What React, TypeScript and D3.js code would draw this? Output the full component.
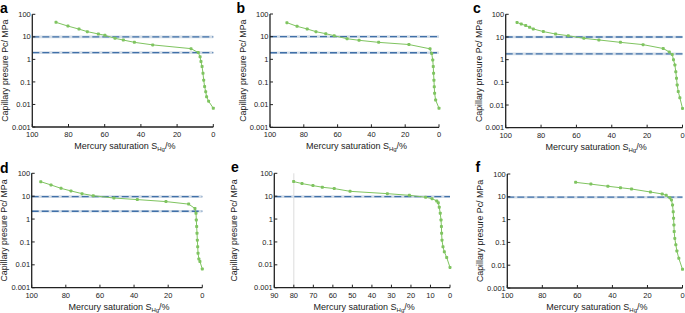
import React from "react";
import * as d3 from "d3";

// ---------- data ----------
const yTicks = [100, 10, 1, 0.1, 0.01, 0.001];
const yTickLabels = ["100", "10", "1", "0.1", "0.01", "0.001"];
const xTicks100 = [100, 80, 60, 40, 20, 0];
const xTicks90 = [90, 80, 70, 60, 50, 40, 30, 20, 10, 0];

const satA = [86.9, 80.3, 74.2, 69.6, 63.5, 59.9, 54.3, 49.7, 43.6, 33.5, 12.3, 8.3, 7.3, 6.8, 6.2, 5.7, 5.3, 4.8, 4.2, 3.7, 2.6, 0];
const pcA = [44, 30, 22, 17, 13.4, 11.7, 8.6, 7.2, 5.7, 4.4, 3.0, 2.0, 1.3, 0.8, 0.48, 0.24, 0.12, 0.062, 0.037, 0.022, 0.014, 0.0068];
const linesA = [10, 2.0];

const satB = [90, 84, 78, 72.8, 67, 62, 54.4, 47.3, 35.7, 17.8, 5.3, 4.3, 3.7, 3.4, 3.2, 3.0, 2.8, 2.6, 2.0, 0];
const pcB = [41.5, 28.6, 21.8, 16.6, 13.5, 11, 8.1, 6.9, 5.6, 4.5, 2.9, 1.8, 0.93, 0.48, 0.24, 0.12, 0.062, 0.032, 0.016, 0.0069];
const linesB = [10, 1.95];

const satC = [93.6, 91.2, 88.7, 86.5, 84.4, 78.7, 71.8, 64.6, 55.8, 47.3, 35.1, 22.3, 10.9, 7.5, 5.8, 5.1, 4.3, 3.8, 3.4, 3.0, 2.4, 1.5, 0];
const pcC = [44, 37, 32, 27, 22.6, 17.3, 13.5, 11.4, 8.7, 7.4, 5.8, 4.6, 3.1, 2.2, 1.7, 1.0, 0.58, 0.29, 0.15, 0.076, 0.039, 0.021, 0.0071];
const linesC = [10, 1.8];

const satD = [94.7, 88.7, 82.8, 77, 70.5, 63.9, 51.8, 38.1, 21.3, 8, 4.3, 3.7, 3.5, 3.3, 3.1, 2.9, 2.7, 2.5, 2.0, 1.4, 0];
const pcD = [43, 31, 22, 17, 12.9, 10.5, 8.3, 7.1, 5.8, 4.5, 2.9, 1.8, 0.91, 0.47, 0.24, 0.12, 0.062, 0.032, 0.018, 0.014, 0.0066];
const linesD = [9.6, 2.2];

const satE = [80.1, 75.8, 70.2, 65.4, 59.3, 51.2, 32.1, 20.8, 12.5, 9.2, 6.8, 6.0, 5.5, 5.0, 4.6, 4.4, 4.3, 4.1, 3.6, 2.9, 1.7, 0];
const pcE = [43.5, 35.5, 29, 24.6, 21.5, 16.3, 12.9, 10.9, 9.0, 7.8, 6.2, 5.2, 3.3, 1.8, 0.91, 0.47, 0.24, 0.12, 0.062, 0.037, 0.021, 0.0077];
const linesE = [9.6];
const refLineE = 80;

const satF = [61, 52.3, 42.6, 35.4, 29.1, 18.3, 11.6, 9.3, 7.2, 6.3, 5.7, 5.3, 5.1, 4.9, 4.75, 4.4, 3.8, 3.2, 2.1, 0];
const pcF = [43, 36, 29, 25, 22, 16.2, 13.3, 11.6, 9.1, 7.3, 4.4, 2.2, 1.15, 0.58, 0.3, 0.15, 0.078, 0.042, 0.02, 0.0066];
const linesF = [9.6];

// ---------- layout ----------
type Panel = {
  letter: string;
  sat: number[];
  pc: number[];
  lines: number[];
  xMax: number;
  xTicks: number[];
  ref?: number;
  left: number; right: number; top: number; bottom: number;
  letterX: number; letterY: number;
  titleX: number;
};

const panels: Panel[] = [
  { letter: "a", sat: satA, pc: pcA, lines: linesA, xMax: 100, xTicks: xTicks100, left: 32.3, right: 213.3, top: 14.3, bottom: 127, letterX: 0, letterY: 13, titleX: 4.5 },
  { letter: "b", sat: satB, pc: pcB, lines: linesB, xMax: 100, xTicks: xTicks100, left: 270, right: 439, top: 14, bottom: 127.3, letterX: 236.5, letterY: 13, titleX: 242.5 },
  { letter: "c", sat: satC, pc: pcC, lines: linesC, xMax: 100, xTicks: xTicks100, left: 505.7, right: 682.5, top: 14.3, bottom: 127.7, letterX: 473, letterY: 13, titleX: 479.3 },
  { letter: "d", sat: satD, pc: pcD, lines: linesD, xMax: 100, xTicks: xTicks100, left: 31.7, right: 202.3, top: 173.3, bottom: 287.7, letterX: 0, letterY: 172.7, titleX: 4 },
  { letter: "e", sat: satE, pc: pcE, lines: linesE, xMax: 90, xTicks: xTicks90, ref: refLineE, left: 274.3, right: 450, top: 173.3, bottom: 287.7, letterX: 231, letterY: 172, titleX: 234 },
  { letter: "f", sat: satF, pc: pcF, lines: linesF, xMax: 100, xTicks: xTicks100, left: 507.3, right: 682.5, top: 174, bottom: 288, letterX: 475.5, letterY: 171.7, titleX: 480 },
];

const FONT = "Arial, 'Liberation Sans', Helvetica, sans-serif";
const GREEN = "#7fc460";
const BLUE = "#4070a8";
const AXIS = "#222";

function PanelView({ p }: { p: Panel }) {
  const x = d3.scaleLinear().domain([p.xMax, 0]).range([p.left, p.right]);
  const y = d3.scaleLog().domain([0.001, 100]).range([p.bottom, p.top]);
  const pts = p.sat.map((s, i) => [x(s), y(p.pc[i])] as [number, number]);
  const line = d3.line()(pts) || "";
  const cx = (p.left + p.right) / 2;
  const cy = (p.top + p.bottom) / 2;
  return (
    <g>
      <text x={p.letterX} y={p.letterY} fontFamily={FONT} fontWeight="bold" fontSize={14} fill="#000">{p.letter}</text>
      {p.ref !== undefined && (
        <line x1={x(p.ref)} x2={x(p.ref)} y1={p.top} y2={p.bottom} stroke="#dcdcdc" strokeWidth={1} />
      )}
      {p.lines.map((v, i) => (
        <g key={i}>
          <line x1={p.left} x2={p.right} y1={y(v)} y2={y(v)} stroke="#d3dde8" strokeWidth={2.6} />
          <line x1={p.left} x2={p.right} y1={y(v)} y2={y(v)} stroke={BLUE} strokeWidth={1.3} strokeDasharray="7,3" />
        </g>
      ))}
      <path d={line} fill="none" stroke={GREEN} strokeWidth={1} />
      {pts.map((q, i) => (
        <rect key={i} x={q[0] - 1.5} y={q[1] - 1.5} width={3} height={3} rx={0.8} fill={GREEN} />
      ))}
      {/* axes */}
      <line x1={p.left} x2={p.left} y1={p.top} y2={p.bottom} stroke={AXIS} strokeWidth={1.3} />
      <line x1={p.left} x2={p.right} y1={p.bottom} y2={p.bottom} stroke={AXIS} strokeWidth={1.3} />
      {yTicks.map((t, i) => (
        <g key={t}>
          <line x1={p.left} x2={p.left + 3} y1={y(t)} y2={y(t)} stroke={AXIS} strokeWidth={1} />
          <text x={p.left - 1.5} y={y(t)} dy="0.35em" textAnchor="end" fontFamily={FONT} fontSize={7.5} fill="#222">{yTickLabels[i]}</text>
        </g>
      ))}
      {p.xTicks.map((t) => (
        <g key={t}>
          <line x1={x(t)} x2={x(t)} y1={p.bottom} y2={p.bottom - 3} stroke={AXIS} strokeWidth={1} />
          <text x={x(t)} y={p.bottom + 10} textAnchor="middle" fontFamily={FONT} fontSize={7.5} fill="#222">{t}</text>
        </g>
      ))}
      <text x={cx + 2} y={p.bottom + 22} textAnchor="middle" fontFamily={FONT} fontSize={9} fill="#222">
        Mercury saturation S<tspan fontSize={6} dy={2}>Hg</tspan><tspan dy={-2}>/%</tspan>
      </text>
      <text transform={`translate(${p.titleX + 3},${cy}) rotate(-90)`} textAnchor="middle" fontFamily={FONT} fontSize={8.8} fill="#222">
        Capillary presure Pc/ MPa
      </text>
    </g>
  );
}

export default function App() {
  return (
    <svg width={685} height={313} style={{ position: "absolute", left: 0, top: 0, background: "#fff" }}>
      <rect width={685} height={313} fill="#fff" />
      {panels.map((p) => <PanelView key={p.letter} p={p} />)}
    </svg>
  );
}
